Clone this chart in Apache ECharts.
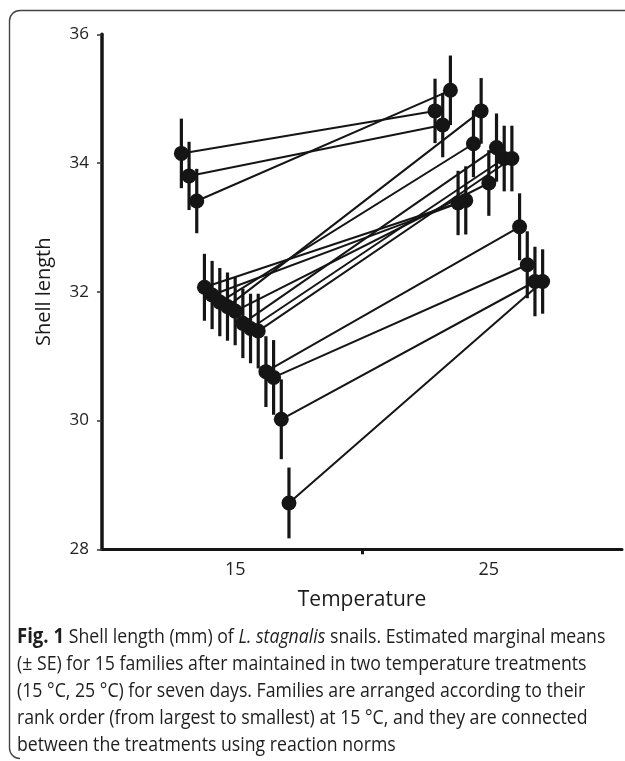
<!DOCTYPE html>
<html><head><meta charset="utf-8">
<script src="https://cdn.jsdelivr.net/npm/echarts@6/dist/echarts.min.js"></script>
<style>html,body{margin:0;padding:0;background:#fff}#c{width:625px;height:761px}</style>
</head><body><div id="c"></div>
<script>
// ---- data ----
const temperatures = [15, 25];
const families = ['F1','F2','F3','F4','F5','F6','F7','F8','F9','F10','F11','F12','F13','F14','F15'];
const mean15 = [34.15, 33.80, 33.41, 32.07, 31.95, 31.84, 31.77, 31.70, 31.51, 31.43, 31.39, 30.76, 30.67, 30.02, 28.72];
const mean25 = [34.81, 34.59, 35.13, 33.38, 33.42, 34.30, 34.81, 33.69, 34.24, 34.07, 34.07, 33.01, 32.42, 32.16, 32.16];
const se15 = [0.54, 0.53, 0.50, 0.52, 0.53, 0.53, 0.53, 0.53, 0.54, 0.54, 0.58, 0.55, 0.58, 0.62, 0.55];
const se25 = [0.50, 0.50, 0.54, 0.50, 0.53, 0.52, 0.51, 0.51, 0.53, 0.51, 0.51, 0.52, 0.52, 0.54, 0.50];
const yTicks = [28, 30, 32, 34, 36];
const xTickLabels = ['15', '25'];
const captionLines = [
  '{b|Fig. 1} Shell length (mm) of {i|L. stagnalis} snails. Estimated marginal means',
  '(± SE) for 15 families after maintained in two temperature treatments',
  '(15 °C, 25 °C) for seven days. Families are arranged according to their',
  'rank order (from largest to smallest) at 15 °C, and they are connected',
  'between the treatments using reaction norms'
];

// ---- layout ----
const dodge = 0.303;            // horizontal offset between families (axis units)
const col = '#151515';
const means = [mean15, mean25];
const ses = [se15, se25];

function xPos(t, i) { return temperatures[t] + (i - (families.length - 1) / 2) * dodge; }

const lineSeries = families.map((f, i) => ({
  type: 'line', name: f, silent: true, animation: false, z: 1,
  symbol: 'none',
  lineStyle: { color: col, width: 2 },
  data: [[xPos(0, i), mean15[i]], [xPos(1, i), mean25[i]]]
}));

const errData = [], ptData = [];
for (let t = 0; t < 2; t++) {
  families.forEach((f, i) => {
    const m = means[t][i], s = ses[t][i];
    errData.push([xPos(t, i), m - s, m + s]);
    ptData.push([xPos(t, i), m]);
  });
}

const chart = echarts.init(document.getElementById('c'), null, { renderer: 'canvas' });
const font = 'Open Sans';
const bStyle = { stroke: '#444', lineWidth: 1.4, fill: null };
const capSize = 20;

const graphics = [
  { type: 'line', silent: true, shape: { x1: 20, y1: 10.5, x2: 625, y2: 10.5 }, style: bStyle },
  { type: 'line', silent: true, shape: { x1: 9.5, y1: 21, x2: 9.5, y2: 748 }, style: bStyle },
  { type: 'arc', silent: true, shape: { cx: 20, cy: 21, r: 10.5, startAngle: Math.PI, endAngle: 1.5 * Math.PI, clockwise: true }, style: bStyle },
  { type: 'arc', silent: true, shape: { cx: 20, cy: 748, r: 10.5, startAngle: 0.5 * Math.PI, endAngle: Math.PI, clockwise: true }, style: bStyle }
];
captionLines.forEach((txt, k) => {
  graphics.push({
    type: 'text', x: 17, y: 637 + k * 27, scaleX: 0.885, silent: true,
    style: {
      text: txt, fill: '#1e1e1e', font: capSize + 'px "' + font + '"', verticalAlign: 'middle',
      rich: {
        b: { fontWeight: 'bold', fontFamily: font, fontSize: capSize + 1, fill: '#1e1e1e' },
        i: { fontStyle: 'italic', fontFamily: font, fontSize: capSize, fill: '#1e1e1e' }
      }
    }
  });
});

chart.setOption({
  animation: false,
  backgroundColor: '#fff',
  grid: { left: 102, right: 3, top: 34.3, bottom: 211.7, containLabel: false },
  xAxis: {
    type: 'value', min: 9.75, max: 30.25,
    name: 'Temperature', nameLocation: 'middle', nameGap: 40,
    nameTextStyle: { fontFamily: font, fontSize: 21, color: '#1a1a1a' },
    axisLine: { lineStyle: { color: col, width: 3 } },
    axisTick: { show: true, customValues: [(temperatures[0] + temperatures[1]) / 2], length: 5, inside: false,
      lineStyle: { color: col, width: 3 } },
    axisLabel: { customValues: temperatures, formatter: v => xTickLabels[temperatures.indexOf(v)],
      fontFamily: font, fontSize: 18, color: '#222', margin: 12 },
    splitLine: { show: false }
  },
  yAxis: {
    type: 'value', min: yTicks[0], max: yTicks[yTicks.length - 1], interval: 2,
    name: 'Shell length', nameLocation: 'middle', nameGap: 48,
    nameTextStyle: { fontFamily: font, fontSize: 20, color: '#1a1a1a' },
    axisLine: { show: true, lineStyle: { color: col, width: 3.5 } },
    axisTick: { show: true, length: 5, lineStyle: { color: '#333', width: 1.5 } },
    axisLabel: { fontFamily: font, fontSize: 17, color: '#222', margin: 13 },
    splitLine: { show: false }
  },
  graphic: graphics,
  series: [
    ...lineSeries,
    {
      type: 'custom', silent: true, z: 2,
      data: errData,
      encode: { x: 0, y: [1, 2] },
      renderItem: (params, api) => {
        const a = api.coord([api.value(0), api.value(1)]);
        const b = api.coord([api.value(0), api.value(2)]);
        return { type: 'line', shape: { x1: a[0], y1: a[1], x2: b[0], y2: b[1] },
          style: { stroke: col, lineWidth: 3.2 } };
      }
    },
    {
      type: 'scatter', silent: true, z: 3,
      symbol: 'circle', symbolSize: 15,
      itemStyle: { color: col, opacity: 1 },
      data: ptData
    }
  ]
});
</script>
</body></html>
